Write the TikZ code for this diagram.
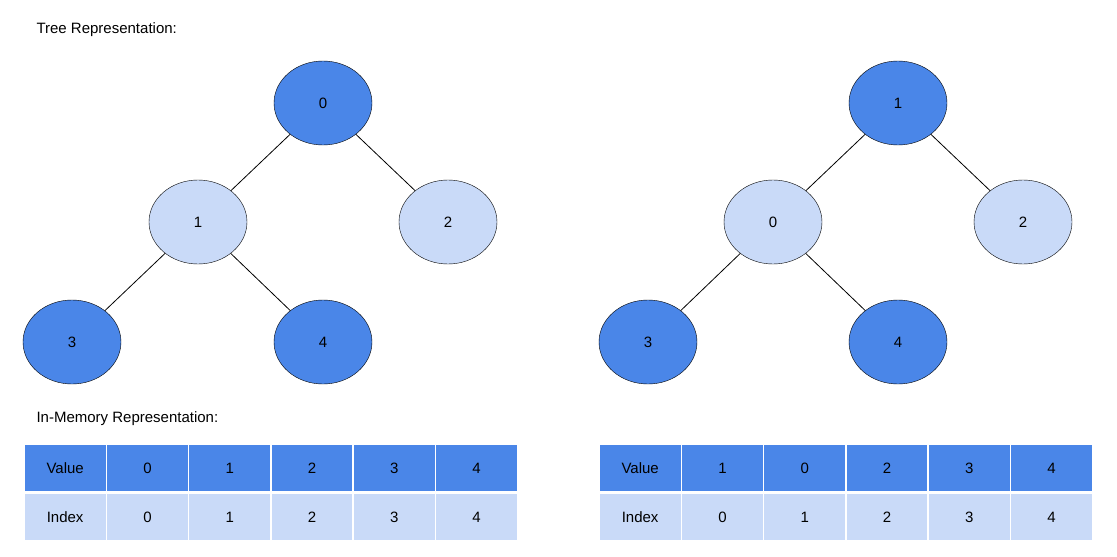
\documentclass[tikz,border=0pt]{standalone}
\usepackage{fontspec}
\setmainfont{Liberation Sans}
\usetikzlibrary{shapes.geometric}
\definecolor{darkblue}{HTML}{4A86E8}
\definecolor{lightblue}{HTML}{C9DAF8}
\begin{document}
\begin{tikzpicture}[
  x=1pt, y=-1pt,
  font=\fontsize{15}{18}\selectfont,
  dark/.style={ellipse, draw=black, fill=darkblue, minimum width=98pt, minimum height=84pt, inner sep=0pt},
  light/.style={ellipse, draw=black, fill=lightblue, minimum width=98pt, minimum height=84pt, inner sep=0pt},
  cell/.style={draw=white, line width=1.5pt, minimum width=82.3pt, minimum height=48pt, inner sep=0pt},
  edge/.style={draw=black, line width=0.8pt},
]
  \useasboundingbox (0,0) rectangle (1117,557);

  \node[anchor=base west] (title) at (33,33) {Tree Representation:};
  \node[anchor=base west] (memtitle) at (33,422) {In-Memory Representation:};

  % left tree
  \node[dark]  (a0) at (323,103) {0};
  \node[light] (a1) at (198,222) {1};
  \node[light] (a2) at (448,222) {2};
  \node[dark]  (a3) at (72,342) {3};
  \node[dark]  (a4) at (323,342) {4};
  \draw[edge] (a0) -- (a1);
  \draw[edge] (a0) -- (a2);
  \draw[edge] (a1) -- (a3);
  \draw[edge] (a1) -- (a4);

  % right tree
  \node[dark]  (b1) at (898,103) {1};
  \node[light] (b0) at (773,222) {0};
  \node[light] (b2) at (1023,222) {2};
  \node[dark]  (b3) at (648,342) {3};
  \node[dark]  (b4) at (898,342) {4};
  \draw[edge] (b1) -- (b0);
  \draw[edge] (b1) -- (b2);
  \draw[edge] (b0) -- (b3);
  \draw[edge] (b0) -- (b4);

  % tables
  \foreach \x/\tab/\vals in {24/l/{Value,0,1,2,3,4}, 599/r/{Value,1,0,2,3,4}} {
    \foreach \v [count=\i from 0] in \vals
      \node[cell, fill=darkblue] (\tab v\i) at ({\x+41.15+82.3*\i},468) {\v};
    \foreach \v [count=\i from 0] in {Index,0,1,2,3,4}
      \node[cell, fill=lightblue] (\tab i\i) at ({\x+41.15+82.3*\i},517) {\v};
  }
\end{tikzpicture}
\end{document}
